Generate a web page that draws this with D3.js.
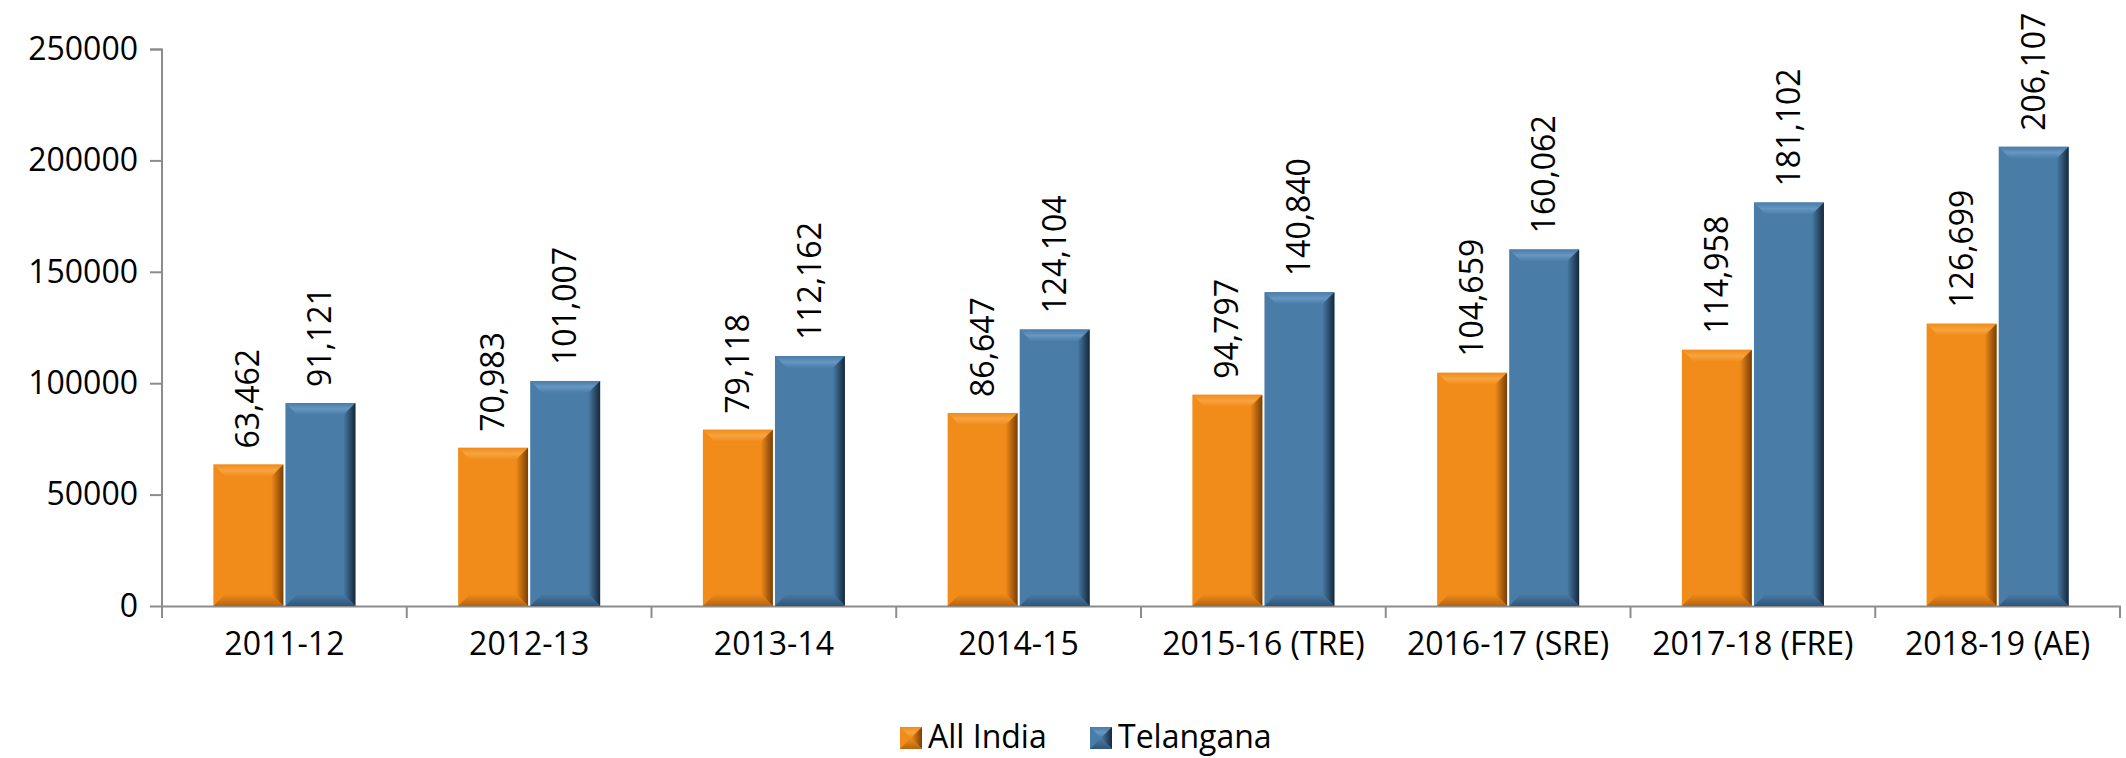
<!DOCTYPE html>
<html>
<head>
<meta charset="utf-8">
<script src="https://cdn.jsdelivr.net/npm/d3@7"></script>
<style>
  body { margin: 0; background: #fff; }
  text { font-family: "Open Sans", sans-serif; fill: #000; }
</style>
</head>
<body>
<div id="chart"></div>
<script>
// data
const categories = ["2011-12", "2012-13", "2013-14", "2014-15", "2015-16 (TRE)", "2016-17 (SRE)", "2017-18 (FRE)", "2018-19 (AE)"];
const allIndia = [63462, 70983, 79118, 86647, 94797, 104659, 114958, 126699];
const telangana = [91121, 101007, 112162, 124104, 140840, 160062, 181102, 206107];
const seriesNames = ["All India", "Telangana"];
const yTicks = [0, 50000, 100000, 150000, 200000, 250000];

const W = 2126, H = 758;
const margin = { top: 49, right: 6, bottom: 152, left: 162 };
const plotW = W - margin.left - margin.right;
const plotH = H - margin.top - margin.bottom;

const colors = {
  "All India": { main: "#f18b1a", light: "#f7a43e", dark: "#7a3f05", bottom: "#b5650f" },
  "Telangana": { main: "#497ca7", light: "#6696c2", dark: "#16283a", bottom: "#2f5578" }
};

const svg = d3.select("#chart").append("svg")
  .attr("width", W).attr("height", H);

const defs = svg.append("defs");
seriesNames.forEach((s, i) => {
  const c = colors[s];
  const g = defs.append("linearGradient").attr("id", "rg" + i)
    .attr("x1", 0).attr("x2", 1).attr("y1", 0).attr("y2", 0);
  g.append("stop").attr("offset", 0).attr("stop-color", c.main);
  g.append("stop").attr("offset", 1).attr("stop-color", c.dark);
  const b = defs.append("linearGradient").attr("id", "bg" + i)
    .attr("x1", 0).attr("x2", 0).attr("y1", 0).attr("y2", 1);
  b.append("stop").attr("offset", 0).attr("stop-color", c.main);
  b.append("stop").attr("offset", 1).attr("stop-color", c.bottom);
  const t = defs.append("linearGradient").attr("id", "tg" + i)
    .attr("x1", 0).attr("x2", 0).attr("y1", 0).attr("y2", 1);
  t.append("stop").attr("offset", 0).attr("stop-color", c.main);
  t.append("stop").attr("offset", 0.5).attr("stop-color", c.light);
  t.append("stop").attr("offset", 1).attr("stop-color", c.main);
});

const chart = svg.append("g").attr("transform", `translate(${margin.left},${margin.top})`);

const x0 = d3.scaleBand().domain(categories).range([0, plotW]);
const x1 = d3.scaleBand().domain(seriesNames).range([0, 142]).paddingInner(0.03);
const y = d3.scaleLinear().domain([0, 250000]).range([plotH, 0]);

// axes
const yAxis = chart.append("g")
  .call(d3.axisLeft(y).tickValues(yTicks).tickSize(12).tickPadding(12).tickFormat(d3.format("d")));
const xAxis = chart.append("g").attr("transform", `translate(0,${plotH})`)
  .call(d3.axisBottom(x0).tickSize(0).tickPadding(26));
[yAxis, xAxis].forEach(a => {
  a.select(".domain").attr("stroke", "#8c8c8c").attr("stroke-width", 2);
  a.selectAll(".tick line").attr("stroke", "#8c8c8c").attr("stroke-width", 2);
  a.selectAll("text").style("font-size", "32px").attr("fill", "#000");
});
yAxis.select(".domain").attr("d", `M-12,0.5H0V${plotH}`);
// category separator ticks on x axis
chart.append("g").selectAll("line")
  .data(categories.map((c, i) => i).concat([categories.length]))
  .join("line")
  .attr("x1", i => i * x0.step()).attr("x2", i => i * x0.step())
  .attr("y1", plotH).attr("y2", plotH + 12)
  .attr("stroke", "#8c8c8c").attr("stroke-width", 2);

// beveled bar
function bevelBar(g, x, yTop, w, h, si, bev) {
  const c = colors[seriesNames[si]];
  const b = Math.min(bev || 12, h / 2, w / 2);
  g.append("rect").attr("x", x).attr("y", yTop).attr("width", w).attr("height", h).attr("fill", c.main);
  // top
  g.append("polygon").attr("fill", `url(#tg${si})`)
    .attr("points", `${x},${yTop} ${x + w},${yTop} ${x + w - b},${yTop + b} ${x + b},${yTop + b}`);
  // right
  g.append("polygon").attr("fill", `url(#rg${si})`)
    .attr("points", `${x + w},${yTop} ${x + w},${yTop + h} ${x + w - b},${yTop + h - b} ${x + w - b},${yTop + b}`);
  // bottom
  g.append("polygon").attr("fill", `url(#bg${si})`)
    .attr("points", `${x},${yTop + h} ${x + w},${yTop + h} ${x + w - b},${yTop + h - b} ${x + b},${yTop + h - b}`);
}

const seriesValues = [allIndia, telangana];
const offset = (x0.bandwidth() - 142) / 2;
categories.forEach((cat, ci) => {
  seriesValues.forEach((vals, si) => {
    const v = vals[ci];
    const bx = x0(cat) + offset + x1(seriesNames[si]);
    const bw = x1.bandwidth();
    bevelBar(chart.append("g"), bx, y(v), bw, plotH - y(v), si, 12);
    chart.append("text")
      .attr("transform", `translate(${bx + bw / 2 + 11},${y(v) - 16}) rotate(-90)`)
      .style("font-size", "32px")
      .attr("text-anchor", "start")
      .text(d3.format(",")(v));
  });
});

// legend
const legend = svg.append("g");
const legendItems = [{ name: "All India", x: 900 }, { name: "Telangana", x: 1090 }];
legendItems.forEach((d, si) => {
  const g = legend.append("g");
  bevelBar(g, d.x, 727, 22, 22, si, 11);
  g.append("text").attr("x", d.x + 28).attr("y", 748)
    .style("font-size", "32px").text(d.name);
});
</script>
</body>
</html>
